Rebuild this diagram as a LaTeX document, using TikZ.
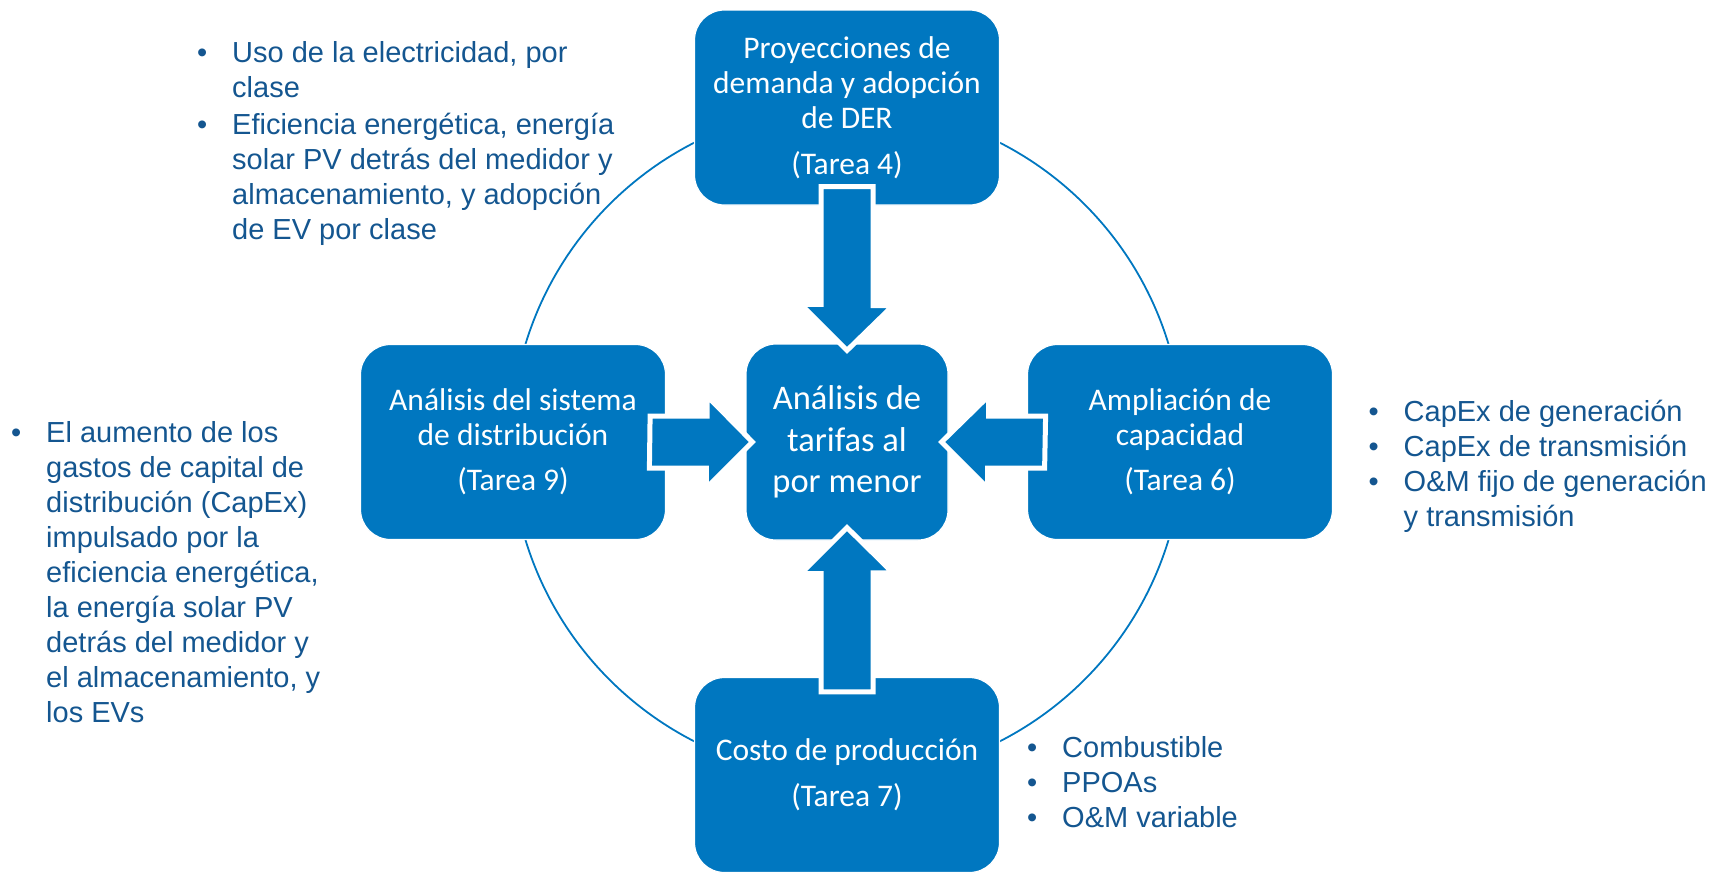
\documentclass[tikz,border=0pt]{standalone}
\usepackage{fontspec}
\setmainfont{Liberation Sans}
\newfontfamily\calibri{Carlito}
\usetikzlibrary{calc}
\definecolor{boxblue}{RGB}{0,119,192}
\definecolor{txtblue}{RGB}{20,86,144}
\newcommand{\bul}{\makebox[35pt][l]{•}}
\begin{document}
\begin{tikzpicture}[x=1pt,y=-1pt,
  box/.style={draw=white, line width=1.2pt, fill=boxblue, rounded corners=30pt,
    minimum width=305pt, minimum height=195pt, inner sep=0pt, text=white,
    align=center, font=\calibri\fontsize{31.5}{35}\selectfont},
  ctrbox/.style={box, minimum width=202pt, minimum height=196pt,
    font=\calibri\fontsize{34.5}{41.5}\selectfont},
  barrow/.style={fill=boxblue, draw=white, line width=5pt, line join=miter},
  bullist/.style={anchor=base west, inner sep=0pt, text=txtblue,
    font=\fontsize{29}{35}\selectfont},
  ring/.style={draw=boxblue, line width=1.8pt}]

\useasboundingbox (0,0) rectangle (1712,873);

\coordinate (c) at (847,442);
\draw[ring] (c) circle[radius=336];

\node[box] (top) at (847,107.5) {Proyecciones de\\demanda y adopción\\de DER\\[11pt](Tarea 4)};
\node[box] (lft) at (513,442) {Análisis del sistema\\de distribución\\[10pt](Tarea 9)};
\node[box] (rgt) at (1180,442) {Ampliación de\\capacidad\\[10pt](Tarea 6)};
\node[box] (bot) at (847,775) {Costo de producción\\[11pt](Tarea 7)};
\node[ctrbox] (ctr) at (c) {\raisebox{-3pt}{\parbox{200pt}{\centering Análisis de\\tarifas al\\por menor}}};

% block arrows
\draw[barrow] ($(top.south)+(-26,-19)$) -- ++(52,0) -- ++(0,119) -- ++(20,0)
  -- ($(ctr.north)+(0,7)$) -- ++(-46,-46) -- ++(20,0) -- cycle;
\draw[barrow] ($(bot.north)+(-26,15)$) -- ++(52,0) -- ++(0,-119) -- ++(20,0)
  -- ($(ctr.south)+(0,-13)$) -- ++(-46,46) -- ++(20,0) -- cycle;
\draw[barrow] ($(lft.east)+(-16,-26)$) -- ++(57,0) -- ++(0,-20)
  -- ($(ctr.west)+(7,0)$) -- ++(-46,46) -- ++(0,-20) -- ++(-57,0) -- cycle;
\draw[barrow] ($(rgt.east)+(-287.5,-26)$) -- ++(-57,0) -- ++(0,-20)
  -- ($(ctr.east)+(-7,0)$) -- ++(46,46) -- ++(0,-20) -- ++(57,0) -- cycle;

% bullet lists
\node[bullist] (tl) at (197,62) {\begin{tabular}[t]{@{}l@{}l@{}}
\bul & Uso de la electricidad, por\\
 & clase\\[2pt]
\bul & Eficiencia energética, energía\\
 & solar PV detrás del medidor y\\
 & almacenamiento, y adopción\\
 & de EV por clase\end{tabular}};

\node[bullist] (ll) at (11,442) {\begin{tabular}[t]{@{}l@{}l@{}}
\bul & El aumento de los\\
 & gastos de capital de\\
 & distribución (CapEx)\\
 & impulsado por la\\
 & eficiencia energética,\\
 & la energía solar PV\\
 & detrás del medidor y\\
 & el almacenamiento, y\\
 & los EVs\end{tabular}};

\node[bullist] (rl) at (1368.5,421) {\begin{tabular}[t]{@{}l@{}l@{}}
\bul & CapEx de generación\\
\bul & CapEx de transmisión\\
\bul & O\&M fijo de generación\\
 & y transmisión\end{tabular}};

\node[bullist] (bl) at (1027,757) {\begin{tabular}[t]{@{}l@{}l@{}}
\bul & Combustible\\
\bul & PPOAs\\
\bul & O\&M variable\end{tabular}};
\end{tikzpicture}
\end{document}
